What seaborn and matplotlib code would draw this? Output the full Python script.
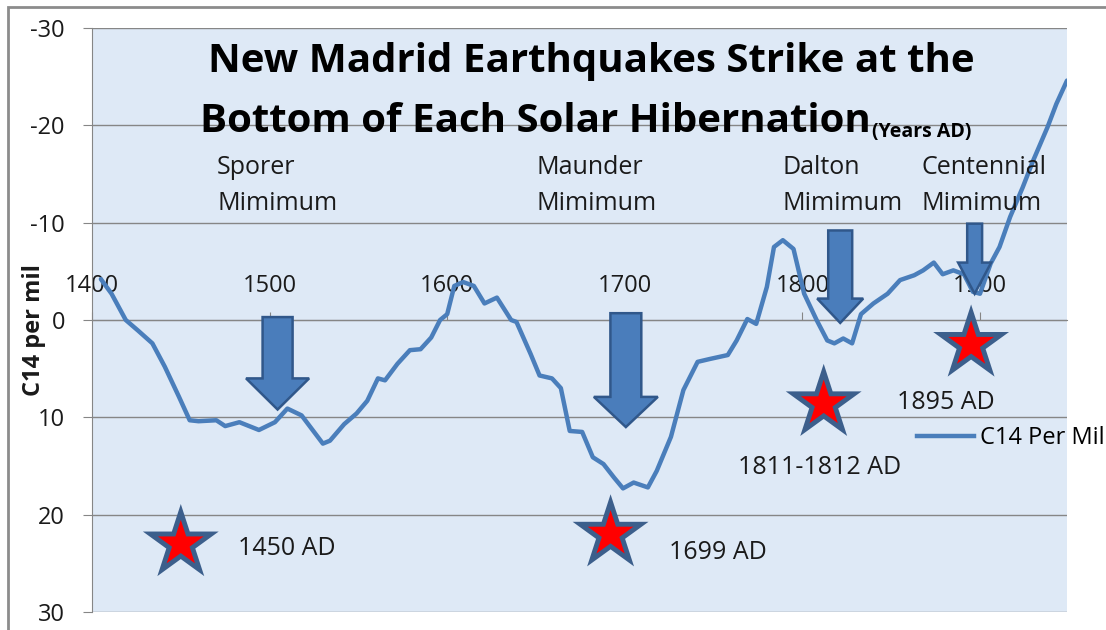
import seaborn as sns
import matplotlib.pyplot as plt
from matplotlib.patches import FancyArrow, Rectangle
from matplotlib.lines import Line2D

# C14 per mil (axis is inverted: negative = more solar activity)
years = [1405, 1411, 1419, 1426, 1434, 1441, 1449, 1455, 1460, 1470, 1475, 1483,
         1494, 1503, 1510, 1518, 1530, 1534, 1542, 1549, 1555, 1561, 1565, 1572,
         1579, 1585, 1591, 1596, 1600, 1604, 1609, 1615, 1621, 1628, 1636, 1639,
         1647, 1652, 1659, 1664, 1669, 1676, 1682, 1688, 1694, 1699, 1705, 1713,
         1718, 1726, 1733, 1741, 1748, 1758, 1763, 1769, 1774, 1780, 1784, 1789,
         1795, 1801, 1808, 1814, 1818, 1823, 1828, 1833, 1840, 1848, 1855, 1863,
         1868, 1874, 1879, 1885, 1891, 1896, 1900, 1906, 1911, 1917, 1924, 1930,
         1938, 1943, 1949]
c14 = [-4.2, -2.7, 0.0, 1.1, 2.4, 4.8, 7.9, 10.3, 10.4, 10.3, 10.9, 10.5,
       11.3, 10.5, 9.1, 9.8, 12.7, 12.4, 10.7, 9.6, 8.3, 6.0, 6.2, 4.5,
       3.1, 3.0, 1.8, 0.0, -0.6, -3.5, -3.9, -3.5, -1.7, -2.3, 0.0, 0.2,
       3.5, 5.7, 6.0, 7.0, 11.4, 11.5, 14.1, 14.8, 16.2, 17.3, 16.7, 17.2,
       15.5, 12.0, 7.2, 4.3, 4.0, 3.6, 2.1, -0.1, 0.4, -3.4, -7.5, -8.2,
       -7.3, -2.7, 0.0, 2.1, 2.4, 1.9, 2.4, -0.6, -1.7, -2.7, -4.1, -4.6,
       -5.1, -5.9, -4.7, -5.1, -4.7, -2.9, -2.7, -5.8, -7.5, -10.6, -13.6, -16.4,
       -19.8, -22.2, -24.6]

quake_years = [1450, 1692, 1812, 1895]
quake_c14 = [23.0, 22.0, 8.6, 2.5]
quake_labels = ['1450 AD', '1699 AD', '1811-1812 AD', '1895 AD']
quake_label_years = [1482, 1725, 1764, 1853]
quake_label_c14 = [23.5, 23.9, 15.2, 8.5]

minima_names = ['Sporer\nMimimum', 'Maunder\nMimimum', 'Dalton\nMimimum', 'Centennial\nMimimum']
minima_years = [1470.5, 1650.5, 1789, 1867]

arrow_years = [1504.5, 1700.6, 1821.3, 1897.0]
arrow_top = [-0.3, -0.7, -9.2, -9.9]
arrow_tip = [9.2, 11.0, 0.3, -2.7]

W, H = 1106, 630
BLUE = '#4a7ebb'
TEXT = '#1a1a1a'
GRID = '#868686'

plt.rcParams['font.family'] = ['Open Sans', 'DejaVu Sans']
plt.rcParams['axes.unicode_minus'] = False

fig = plt.figure(figsize=(W / 100, H / 100), dpi=100)
ax = fig.add_axes([92 / W, 1 - 612 / H, (1067 - 92) / W, (612 - 28) / H])
ax.set_facecolor('#dee9f6')

sns.lineplot(x=years, y=c14, ax=ax, color=BLUE, linewidth=3.2, legend=False,
             zorder=3, solid_joinstyle='round', solid_capstyle='round')

# block arrows pointing at each minimum
arrow_styles = [(16.9, 35.5, 3.2), (17.4, 36.0, 3.1), (13.5, 25.9, 2.5), (8.4, 18.6, 3.2)]
for x, top, tip, (shaft, head, head_len) in zip(arrow_years, arrow_top, arrow_tip, arrow_styles):
    ax.add_patch(FancyArrow(x, top, 0, tip - top, width=shaft, head_width=head,
                            head_length=head_len, length_includes_head=True,
                            facecolor='#4a7dbb', edgecolor='#30578a', lw=1.8, zorder=4))

# earthquake stars: dark outline star with red star on top
sns.scatterplot(x=quake_years, y=quake_c14, ax=ax, marker='*', s=3300,
                color='#3c5f8c', edgecolor='none', legend=False, zorder=5)
sns.scatterplot(x=quake_years, y=quake_c14, ax=ax, marker='*', s=1200,
                color='#ff0000', edgecolor='none', legend=False, zorder=6)

for label, x, y in zip(quake_labels, quake_label_years, quake_label_c14):
    ax.text(x, y, label, fontsize=18, color=TEXT, ha='left', va='center', zorder=7)

for name, x in zip(minima_names, minima_years):
    ax.text(x, -17.0, name, fontsize=18, color=TEXT, ha='left', va='top',
            linespacing=1.6, zorder=7)

ax.set_xlim(1400, 1949)
ax.set_ylim(30, -30)
ax.set_yticks(range(-30, 31, 10))
ax.set_xticks(range(1400, 1901, 100))
ax.yaxis.grid(True, color=GRID, lw=1)
ax.xaxis.grid(False)
ax.set_axisbelow(True)

for side in ['right', 'bottom']:
    ax.spines[side].set_visible(False)
ax.spines['left'].set_color(GRID)
ax.spines['top'].set_color(GRID)
ax.spines['top'].set_position(('data', 0))
ax.xaxis.set_ticks_position('top')
ax.tick_params(axis='y', direction='out', length=6.5, color=GRID, pad=13,
               labelsize=17, labelcolor=TEXT)
ax.tick_params(axis='x', direction='out', length=5.5, color=GRID, pad=10,
               labelsize=17, labelcolor=TEXT)
ax.set_xlabel('')
ax.set_ylabel('C14 per mil', fontsize=17, fontweight='bold', color=TEXT)
ax.yaxis.set_label_coords(-0.047, 0.483)

ax.legend(handles=[Line2D([], [], color=BLUE, lw=3.2)], labels=['C14 Per Mil'],
          loc='center left', bbox_to_anchor=(917 / W, 1 - 438 / H),
          bbox_transform=fig.transFigure, frameon=False, fontsize=17,
          handlelength=2.4, handletextpad=0.25, borderpad=0, borderaxespad=0)

# title
fig.text(591 / W, 1 - 72 / H, 'New Madrid Earthquakes Strike at the',
         fontsize=29, fontweight='bold', color='black', ha='center', va='baseline')
t2 = fig.text(200 / W, 1 - 132 / H, 'Bottom of Each Solar Hibernation',
              fontsize=29, fontweight='bold', color='black', ha='left', va='baseline')
ax.annotate('(Years AD)', xy=(1, 0), xycoords=t2, xytext=(1, -1),
            textcoords='offset points', fontsize=14, fontweight='bold',
            color='black', ha='left', va='bottom')

fig.add_artist(Rectangle((8 / W, -0.1), 2, 1.1 - 7 / H, transform=fig.transFigure,
                         fill=False, edgecolor='#8c8c8c', lw=2))

fig.savefig('out.png', dpi=100)
